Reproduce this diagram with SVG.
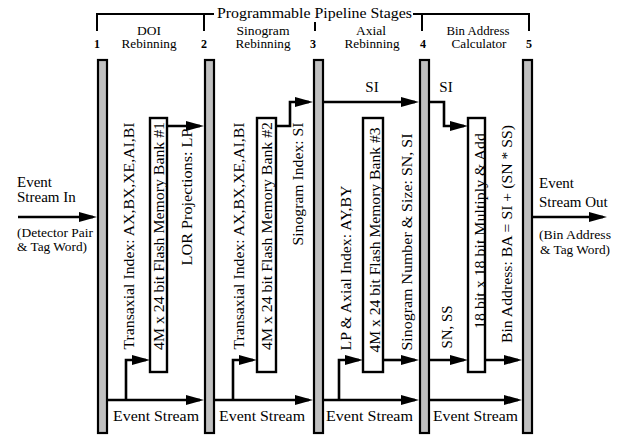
<svg xmlns="http://www.w3.org/2000/svg" width="618" height="436" viewBox="0 0 618 436" font-family="'Liberation Serif', 'Times New Roman', serif">
  <style>
    text { font-family: 'Liberation Serif', 'Times New Roman', serif; fill: #000; }
    .hdr { font-size: 15px; }
    .num { font-size: 12px; font-weight: bold; text-anchor: middle; }
    .stg { font-size: 12px; text-anchor: middle; }
    .io { font-size: 15px; }
    .io-s { font-size: 13px; }
    .es { font-size: 15px; }
    .rot { font-size: 15px; text-anchor: middle; }
    .bar { fill: #c0c0c0; stroke: #000; stroke-width: 2.2; }
    .mem { fill: #fff; stroke: #000; stroke-width: 2.4; }
    .wire { fill: none; stroke: #000; stroke-width: 2.6; marker-end: url(#head); }
    .brk { fill: none; stroke: #000; stroke-width: 2; }
  </style>
  <defs>
    <marker id="head" markerUnits="userSpaceOnUse" markerWidth="18" markerHeight="10" refX="14" refY="5" orient="auto">
      <path d="M0,0 L18,5 L0,10 z" fill="#000"/>
    </marker>
  </defs>

  <!-- header bracket and title -->
  <g id="header">
    <path class="brk" d="M97,31 V14 H214 M413,14 H529 V31 M204,14 V31 M422,14 V31 M315,22 V31"/>
    <text class="hdr" x="217" y="18" textLength="195" lengthAdjust="spacingAndGlyphs">Programmable Pipeline Stages</text>
    <text class="num" x="97" y="48">1</text>
    <text class="num" x="204" y="48">2</text>
    <text class="num" x="313" y="48">3</text>
    <text class="num" x="423" y="48">4</text>
    <text class="num" x="529" y="48">5</text>
    <text class="stg" x="149" y="35" textLength="24" lengthAdjust="spacingAndGlyphs">DOI</text>
    <text class="stg" x="149" y="48" textLength="55" lengthAdjust="spacingAndGlyphs">Rebinning</text>
    <text class="stg" x="263" y="35" textLength="53" lengthAdjust="spacingAndGlyphs">Sinogram</text>
    <text class="stg" x="263" y="48" textLength="55" lengthAdjust="spacingAndGlyphs">Rebinning</text>
    <text class="stg" x="371" y="35" textLength="30" lengthAdjust="spacingAndGlyphs">Axial</text>
    <text class="stg" x="372" y="48" textLength="55" lengthAdjust="spacingAndGlyphs">Rebinning</text>
    <text class="stg" x="478" y="35" textLength="63" lengthAdjust="spacingAndGlyphs">Bin Address</text>
    <text class="stg" x="479" y="48" textLength="55" lengthAdjust="spacingAndGlyphs">Calculator</text>
  </g>

  <!-- pipeline registers -->
  <g id="reg1"><rect class="bar" x="98" y="60" width="9" height="373"/></g>
  <g id="reg2"><rect class="bar" x="205" y="60" width="9" height="373"/></g>
  <g id="reg3"><rect class="bar" x="314" y="60" width="9" height="373"/></g>
  <g id="reg4"><rect class="bar" x="420" y="60" width="9" height="373"/></g>
  <g id="reg5"><rect class="bar" x="523" y="60" width="9" height="373"/></g>

  <!-- lookup / arithmetic units -->
  <g id="bank1">
    <rect class="mem" x="150" y="118" width="17" height="254"/>
    <text class="rot" transform="translate(164,236) rotate(-90)" textLength="228" lengthAdjust="spacingAndGlyphs">4M x 24 bit Flash Memory Bank #1</text>
  </g>
  <g id="bank2">
    <rect class="mem" x="257" y="118" width="19" height="254"/>
    <text class="rot" transform="translate(272,236) rotate(-90)" textLength="228" lengthAdjust="spacingAndGlyphs">4M x 24 bit Flash Memory Bank #2</text>
  </g>
  <g id="bank3">
    <rect class="mem" x="363" y="118" width="20" height="254"/>
    <text class="rot" transform="translate(380,240) rotate(-90)" textLength="225" lengthAdjust="spacingAndGlyphs">4M x 24 bit Flash Memory Bank #3</text>
  </g>
  <g id="mac">
    <rect class="mem" x="468" y="118" width="17" height="254"/>
    <text class="rot" transform="translate(485,231) rotate(-90)" textLength="196" lengthAdjust="spacingAndGlyphs">18 bit x 18 bit Multiply &amp; Add</text>
  </g>

  <!-- signal labels -->
  <g id="labels">
    <text class="rot" transform="translate(134,236) rotate(-90)" textLength="227" lengthAdjust="spacingAndGlyphs">Transaxial Index: AX,BX,XE,AI,BI</text>
    <text class="rot" transform="translate(192,197) rotate(-90)" textLength="137" lengthAdjust="spacingAndGlyphs">LOR Projections: LP</text>
    <text class="rot" transform="translate(244,236) rotate(-90)" textLength="227" lengthAdjust="spacingAndGlyphs">Transaxial Index: AX,BX,XE,AI,BI</text>
    <text class="rot" transform="translate(303,184) rotate(-90)" textLength="123" lengthAdjust="spacingAndGlyphs">Sinogram Index: SI</text>
    <text class="rot" transform="translate(351,268) rotate(-90)" textLength="165" lengthAdjust="spacingAndGlyphs">LP &amp; Axial Index: AY,BY</text>
    <text class="rot" transform="translate(412,242) rotate(-90)" textLength="217" lengthAdjust="spacingAndGlyphs">Sinogram Number &amp; Size: SN, SI</text>
    <text class="rot" transform="translate(452,327) rotate(-90)" textLength="43" lengthAdjust="spacingAndGlyphs">SN, SS</text>
    <text class="rot" transform="translate(512,234) rotate(-90)" textLength="218" lengthAdjust="spacingAndGlyphs">Bin Address: BA = SI + (SN * SS)</text>
    <text class="es" x="372" y="92" text-anchor="middle">SI</text>
    <text class="es" x="446" y="92" text-anchor="middle">SI</text>
    <text class="es" x="113" y="421" textLength="86" lengthAdjust="spacingAndGlyphs">Event Stream</text>
    <text class="es" x="219" y="421" textLength="86" lengthAdjust="spacingAndGlyphs">Event Stream</text>
    <text class="es" x="326" y="421" textLength="87" lengthAdjust="spacingAndGlyphs">Event Stream</text>
    <text class="es" x="433" y="421" textLength="85" lengthAdjust="spacingAndGlyphs">Event Stream</text>
  </g>

  <!-- stream in / out -->
  <g id="stream-in">
    <text class="io" x="17" y="187">Event</text>
    <text class="io" x="17" y="202">Stream In</text>
    <text class="io-s" x="17" y="237" textLength="76" lengthAdjust="spacingAndGlyphs">(Detector Pair</text>
    <text class="io-s" x="17" y="251" textLength="70" lengthAdjust="spacingAndGlyphs">&amp; Tag Word)</text>
  </g>
  <g id="stream-out">
    <text class="io" x="539" y="188">Event</text>
    <text class="io" x="539" y="207">Stream Out</text>
    <text class="io-s" x="539" y="239" textLength="72" lengthAdjust="spacingAndGlyphs">(Bin Address</text>
    <text class="io-s" x="540" y="254" textLength="70" lengthAdjust="spacingAndGlyphs">&amp; Tag Word)</text>
  </g>

  <!-- connectors -->
  <g id="connectors">
    <path class="wire" d="M18,217 H93"/>
    <path class="wire" d="M532,217 H603"/>
    <path class="wire" d="M107,400 H200"/>
    <path class="wire" d="M214,400 H309"/>
    <path class="wire" d="M323,400 H415"/>
    <path class="wire" d="M429,400 H518"/>
    <path class="wire" d="M126,400 V360 H146"/>
    <path class="wire" d="M233,400 V360 H253"/>
    <path class="wire" d="M339,400 V360 H359"/>
    <path class="wire" d="M383,360 H415"/>
    <path class="wire" d="M429,360 H464"/>
    <path class="wire" d="M485,360 H518"/>
    <path class="wire" d="M167,126 H200"/>
    <path class="wire" d="M276,126 H290 V102 H309"/>
    <path class="wire" d="M323,102 H415"/>
    <path class="wire" d="M429,102 H444 V126 H464"/>
  </g>
</svg>
